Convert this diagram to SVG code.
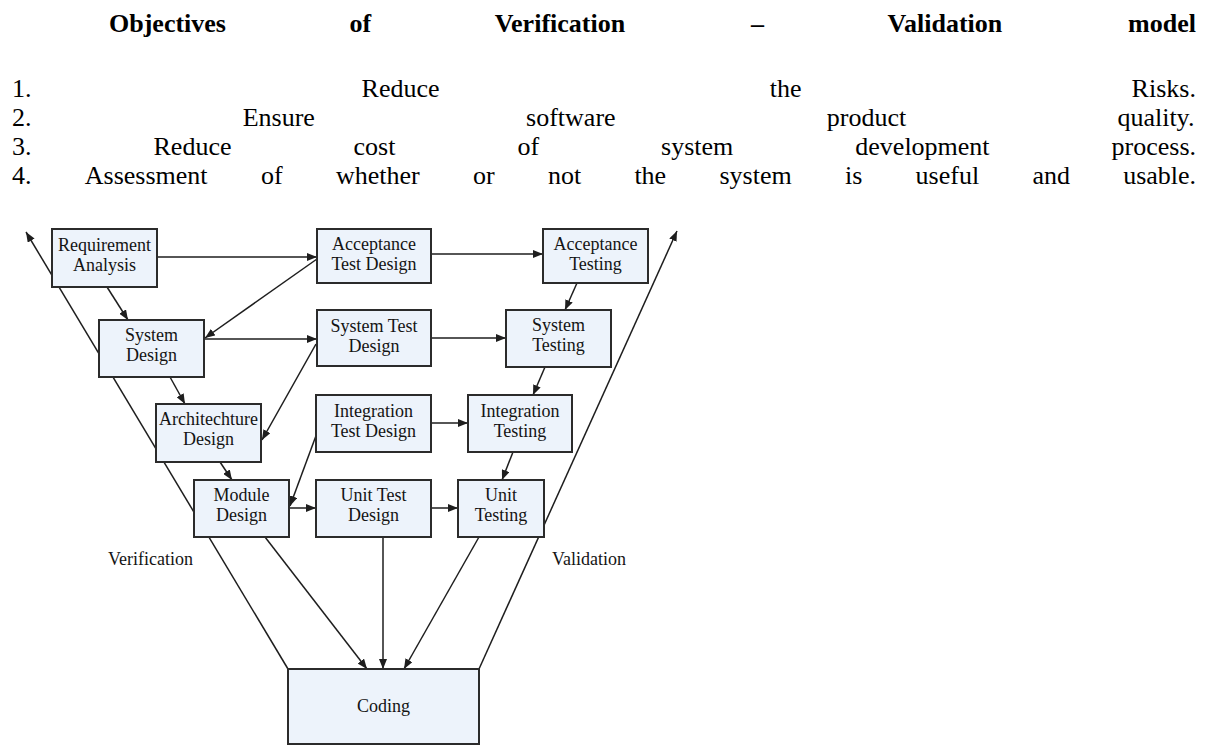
<svg xmlns="http://www.w3.org/2000/svg" width="1215" height="745" viewBox="0 0 1215 745">
<style>
.t{font-family:"Liberation Serif","Times New Roman",serif;font-size:26px;fill:#000}
.tb{font-family:"Liberation Serif","Times New Roman",serif;font-size:26px;font-weight:bold;fill:#000}
.box{fill:#edf3fb;stroke:#2b2b2b;stroke-width:2}
.bt{font-family:"Liberation Serif","Times New Roman",serif;font-size:18px;fill:#141414;text-anchor:middle}
.lbl{font-family:"Liberation Serif","Times New Roman",serif;font-size:18px;fill:#141414}
.c{stroke:#1e1e1e;stroke-width:1.5;fill:none}
.a{marker-end:url(#ah)}
</style>
<defs>
<marker id="ah" viewBox="0 0 10 8" refX="10" refY="4" markerWidth="10" markerHeight="8" markerUnits="userSpaceOnUse" orient="auto">
<path d="M0,0 L10,4 L0,8 z" fill="#1e1e1e"/>
</marker>
</defs>
<rect width="1215" height="745" fill="#fff"/>
<g id="heading">
<text class="tb" y="32"><tspan x="109">Objectives</tspan><tspan x="349.5">of</tspan><tspan x="494.7">Verification</tspan><tspan x="751.1">–</tspan><tspan x="887.6">Validation</tspan><tspan x="1128.1">model</tspan></text>
<text class="t" y="97"><tspan x="12">1.</tspan><tspan x="361.6">Reduce</tspan><tspan x="769.7">the</tspan><tspan x="1131.6">Risks.</tspan></text>
<text class="t" y="126"><tspan x="12">2.</tspan><tspan x="242.7">Ensure</tspan><tspan x="526.1">software</tspan><tspan x="826.8">product</tspan><tspan x="1117.4">quality.</tspan></text>
<text class="t" y="155"><tspan x="12">3.</tspan><tspan x="153.5">Reduce</tspan><tspan x="353.5">cost</tspan><tspan x="517.4">of</tspan><tspan x="661.1">system</tspan><tspan x="855.3">development</tspan><tspan x="1111.6">process.</tspan></text>
<text class="t" y="184"><tspan x="12">4.</tspan><tspan x="84.8">Assessment</tspan><tspan x="260.9">of</tspan><tspan x="335.9">whether</tspan><tspan x="472.9">or</tspan><tspan x="547.9">not</tspan><tspan x="634.4">the</tspan><tspan x="719.5">system</tspan><tspan x="845">is</tspan><tspan x="915.6">useful</tspan><tspan x="1032.4">and</tspan><tspan x="1123.2">usable.</tspan></text>
</g>
<g id="connectors">
<line class="c a" x1="288" y1="669" x2="26" y2="232"/>
<line class="c a" x1="479" y1="669" x2="677" y2="231"/>
<line class="c a" x1="157" y1="257" x2="317" y2="257"/>
<line class="c a" x1="317" y1="259" x2="205" y2="338"/>
<line class="c a" x1="204" y1="339" x2="317" y2="339"/>
<line class="c a" x1="316" y1="344" x2="262" y2="440"/>
<line class="c a" x1="317" y1="433" x2="290" y2="506"/>
<line class="c a" x1="289" y1="508" x2="316" y2="508"/>
<line class="c a" x1="431" y1="254" x2="543" y2="254"/>
<line class="c a" x1="431" y1="338" x2="506" y2="338"/>
<line class="c a" x1="431" y1="423" x2="468" y2="423"/>
<line class="c a" x1="431" y1="508" x2="458" y2="508"/>
<line class="c a" x1="577" y1="283" x2="565" y2="310"/>
<line class="c a" x1="545" y1="367" x2="533" y2="395"/>
<line class="c a" x1="513" y1="452" x2="502" y2="480"/>
<line class="c a" x1="107" y1="287" x2="128" y2="320"/>
<line class="c a" x1="170" y1="377" x2="185" y2="404"/>
<line class="c a" x1="220" y1="462" x2="232" y2="480"/>
<line class="c a" x1="265" y1="537" x2="367" y2="669"/>
<line class="c a" x1="383" y1="537" x2="383" y2="669"/>
<line class="c a" x1="479" y1="537" x2="404" y2="669"/>
</g>
<g id="n-req"><rect class="box" x="52" y="229" width="105" height="58"/><text class="bt" x="104.5" y="251">Requirement</text><text class="bt" x="104.5" y="271">Analysis</text></g>
<g id="n-atd"><rect class="box" x="317" y="229" width="114" height="54"/><text class="bt" x="374" y="250">Acceptance</text><text class="bt" x="374" y="270">Test Design</text></g>
<g id="n-at"><rect class="box" x="543" y="229" width="105" height="54"/><text class="bt" x="595.5" y="250">Acceptance</text><text class="bt" x="595.5" y="270">Testing</text></g>
<g id="n-sd"><rect class="box" x="99" y="320" width="105" height="57"/><text class="bt" x="151.5" y="341">System</text><text class="bt" x="151.5" y="361">Design</text></g>
<g id="n-std"><rect class="box" x="317" y="310" width="114" height="56"/><text class="bt" x="374" y="332">System Test</text><text class="bt" x="374" y="352">Design</text></g>
<g id="n-st"><rect class="box" x="506" y="310" width="105" height="57"/><text class="bt" x="558.5" y="331">System</text><text class="bt" x="558.5" y="351">Testing</text></g>
<g id="n-arch"><rect class="box" x="156" y="404" width="105" height="58"/><text class="bt" x="208.5" y="425">Architechture</text><text class="bt" x="208.5" y="445">Design</text></g>
<g id="n-itd"><rect class="box" x="316" y="395" width="115" height="57"/><text class="bt" x="373.5" y="417">Integration</text><text class="bt" x="373.5" y="437">Test Design</text></g>
<g id="n-it"><rect class="box" x="468" y="395" width="104" height="57"/><text class="bt" x="520" y="417">Integration</text><text class="bt" x="520" y="437">Testing</text></g>
<g id="n-md"><rect class="box" x="194" y="480" width="95" height="57"/><text class="bt" x="241.5" y="501">Module</text><text class="bt" x="241.5" y="521">Design</text></g>
<g id="n-utd"><rect class="box" x="316" y="480" width="115" height="57"/><text class="bt" x="373.5" y="501">Unit Test</text><text class="bt" x="373.5" y="521">Design</text></g>
<g id="n-ut"><rect class="box" x="458" y="480" width="86" height="57"/><text class="bt" x="501" y="501">Unit</text><text class="bt" x="501" y="521">Testing</text></g>
<g id="n-coding"><rect class="box" x="288" y="669" width="191" height="75"/><text class="bt" x="383.5" y="712">Coding</text></g>
<g id="labels"><text class="lbl" x="108" y="565">Verification</text><text class="lbl" x="552" y="565">Validation</text></g>
</svg>
